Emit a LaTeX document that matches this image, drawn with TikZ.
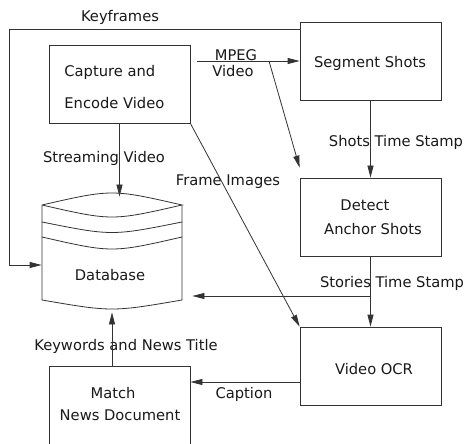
\documentclass[tikz,border=0pt]{standalone}
\usepackage{fontspec}
\setmainfont{DejaVu Sans}
\usetikzlibrary{arrows.meta,calc}
\begin{document}
\begin{tikzpicture}[x=1pt,y=-1pt,
  line width=0.8pt, draw=black!80,
  every node/.style={font=\fontsize{14.7}{16}\selectfont, text=black!90, inner sep=0pt},
  box/.style={draw=black!80, line width=0.8pt, rectangle, minimum width=141pt, minimum height=78pt},
  arr/.style={draw=black!80, -{Triangle[length=12pt,width=6pt]}}]
\useasboundingbox (0,0) rectangle (464,444);
\clip (0,0) rectangle (464,444);
\fill[white] (0,0) rectangle (464,444);
% boxes
\node[box] (cap) at (119.5,84) {};
\node[box] (seg) at (370.5,61) {};
\node[box] (det) at (370.5,217) {};
\node[box] (ocr) at (370.5,366) {};
\node[box, minimum height=100pt] (match) at (119.5,416) {};
% database
\node[minimum width=140pt, minimum height=109pt] (db) at (112,251.5) {};
\draw (42,205) .. controls (112,189) .. (182,205)
      .. controls (112,221) .. (42,205);
\draw (42,222) .. controls (112,236) .. (182,222);
\draw (42,237) .. controls (112,253) .. (182,237);
\draw (42,205) -- (42,300) .. controls (112,312) .. (182,300) -- (182,205);
% texts
\node at (120,17) {Keyframes};
\node[anchor=west] at (64,72) {Capture and};
\node[anchor=west] at (64,103) {Encode Video};
\node at (104,158) {Streaming Video};
\node at (228,182) {Frame Images};
\node at (236,55) {MPEG};
\node at (233,71) {Video};
\node at (370,63) {Segment Shots};
\node at (396,142) {Shots Time Stamp};
\node at (365,205) {Detect};
\node at (373,229) {Anchor Shots};
\node at (392,283) {Stories Time Stamp};
\node at (110,275) {Database};
\node at (374,369) {Video OCR};
\node at (126,346) {Keywords and News Title};
\node at (244,394) {Caption};
\node at (113,393) {Match};
\node at (120,415) {News Document};
% connectors
\coordinate (kf1) at (9.5,29);
\coordinate (kf2) at (9.5,265);
\draw[arr] (seg.west |- kf1) -- (kf1) -- (kf2) -- (kf2 -| db.west);
\draw[arr] (cap.south) -- (cap.south |- db.north);
\coordinate (mp1) at (197,61);
\coordinate (mp2) at (269,61);
\draw[arr] (mp1) -- (mp1 -| seg.west);
\draw[arr] (mp2) -- ($(det.north west)+(0,-10)$);
\draw[arr] (cap.south east) -- (ocr.north west);
\draw[arr] (seg.south) -- (det.north);
\draw[arr] (det.south) -- (ocr.north);
\coordinate (st) at (370.5,296);
\draw[arr, shorten >=10pt] (st) -- (st -| db.east);
\coordinate (cp) at (300,382);
\draw[arr] (cp -| ocr.west) -- (cp -| match.east);
\draw[arr, shorten >=6pt] (db.south |- match.north) -- (db.south);
\end{tikzpicture}
\end{document}
